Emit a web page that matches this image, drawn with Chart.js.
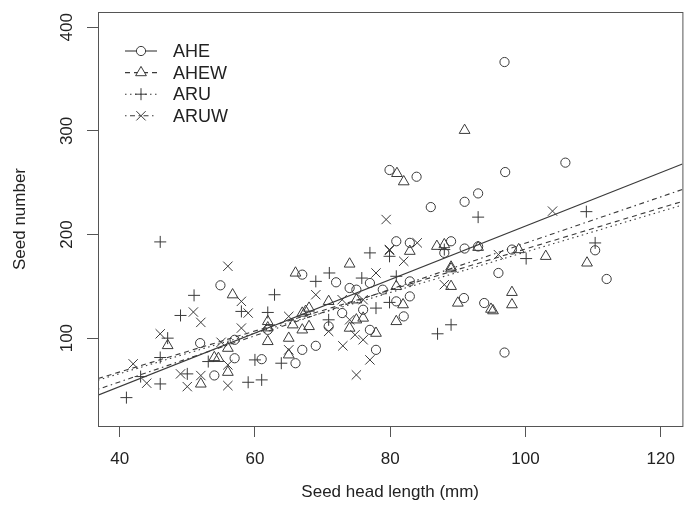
<!DOCTYPE html>
<html>
<head>
<meta charset="utf-8">
<script src="https://cdn.jsdelivr.net/npm/chart.js@4/dist/chart.umd.min.js"></script>
<style>
  html, body { margin: 0; padding: 0; overflow: hidden; background: #fff; }
  #wrap { width: 690px; height: 515px; }
</style>
</head>
<body>
<div id="wrap"><canvas id="c" width="690" height="515"></canvas></div>
<script>
// Seed number vs seed head length, four groups with their fitted lines.
// The original R plot is cropped on the right, so the canvas is 5px wider than the window.

const X_TICKS = [40, 60, 80, 100, 120];
const Y_TICKS = [100, 200, 300, 400];

const AHE_X = [54.9, 51.9, 54, 67, 72, 77, 74, 75, 78.9, 61.9, 57, 57, 61, 66, 67, 69, 70.9, 72.9, 76, 77, 77.9,
  79.9, 83.9, 97, 86, 91, 93, 80.9, 82.9, 89, 88, 91, 93, 98, 96, 82.9, 82.9, 80.9, 82, 90.9, 93.9, 96.9, 105.9, 96.9, 110.3, 112];
const AHE_Y = [151, 95.2, 64, 161.3, 153.9, 153.2, 148.4, 146.8, 146.8, 108, 98.4, 80.6, 79.7, 75.8, 88.7, 92.6, 111.3, 124.2, 127.4, 108, 88.7,
  262.3, 255.8, 260.3, 226.5, 231.6, 239.7, 193.5, 192, 193.5, 182.3, 186.5, 188.5, 185.5, 162.9, 154.8, 140.3, 135.5, 121, 138.7, 133.9, 366.5, 269.4, 86.1, 184.8, 157.1];

const AHEW_X = [47.1, 56, 54, 54.6, 56, 52, 56.7, 74, 66, 61.9, 61.9, 61.9, 65, 65, 67, 68, 67.5, 67, 68, 65.6, 70.9, 74, 76, 77.9, 75, 75,
  81, 82, 82.9, 86.9, 88, 93, 89, 89, 99, 103, 80.9, 81.9, 80.9, 89, 90, 94.9, 95.2, 98, 98, 91, 109.1];
const AHEW_Y = [92.9, 90.3, 81.3, 80.5, 67.1, 55.8, 141.9, 171.6, 162.9, 116.1, 110, 96.8, 100, 83.9, 124.2, 129, 126, 108, 111.3, 112.9, 135.5, 109.7, 119.4, 104.8, 137, 117.7,
  259, 251, 183.9, 188.7, 190.3, 187.7, 168.7, 167, 185.5, 179, 150, 132.3, 116.1, 150, 133.9, 128, 126.5, 144.2, 132.3, 300.6, 172.6];

const ARU_X = [46, 51, 49, 47.1, 53.1, 43.1, 46, 46, 41, 50, 77, 79.9, 71, 69, 75.8, 77.9, 58, 62.9, 61.9, 60, 59, 61, 63.9, 70.9,
  80.9, 88, 93, 100.1, 79.9, 89, 109, 87, 110.3];
const ARU_Y = [192.9, 141.3, 121.9, 100, 77.4, 62.9, 81.3, 55.8, 42.6, 65.5, 182.3, 179, 162.9, 154.8, 158, 129, 125.8, 141.9, 124.8, 79, 57.4, 59.7, 75.8, 117.7,
  159.7, 185.5, 216.8, 176.8, 134.5, 112.9, 222.1, 104.2, 191.9];

const ARUW_X = [56, 50.9, 52, 46, 55, 56, 56, 42, 44, 49, 50, 52, 79.9, 77.9, 69, 76, 58, 59, 58, 65, 65, 70.9, 73, 74, 74.8, 76, 77, 75, 72.9,
  79.4, 104, 79.9, 82, 84, 96, 88];
const ARUW_Y = [169.4, 125.2, 115.2, 104.2, 96, 74.2, 54.2, 75.2, 56.5, 65.5, 53.2, 63.9, 184.8, 162.9, 141.9, 137.1, 135.5, 124.2, 109.7, 121, 88.7, 106.5, 92.6, 117.7, 103.2, 98.4, 79, 64.5, 137.1,
  214.5, 222.6, 185.5, 174.2, 192, 180.6, 151.6];

// fitted lines, read at the two ends of the x range
const LINE_X = [36.8, 123.2];
const LINE_AHE = [45, 268];
const LINE_AHEW = [61, 232];
const LINE_ARU = [59.5, 228.5];
const LINE_ARUW = [50.6, 243.5];

const INK = "#3a3a3a";
const FONT = "Liberation Sans, Arial, Helvetica, sans-serif";

const pts = (xs, ys) => xs.map((x, i) => ({ x, y: ys[i] }));
const line = (ys) => LINE_X.map((x, i) => ({ x, y: ys[i] }));

const GROUPS = [
  { label: "AHE", xs: AHE_X, ys: AHE_Y, fit: LINE_AHE, style: "circle", r: 4.6, dash: [] },
  { label: "AHEW", xs: AHEW_X, ys: AHEW_Y, fit: LINE_AHEW, style: "triangle", r: 6.2, dash: [5, 4] },
  { label: "ARU", xs: ARU_X, ys: ARU_Y, fit: LINE_ARU, style: "cross", r: 6, dash: [1.5, 3.5] },
  { label: "ARUW", xs: ARUW_X, ys: ARUW_Y, fit: LINE_ARUW, style: "crossRot", r: 6.6, dash: [1.5, 3.5, 5, 3.5] },
];

const datasets = [];
GROUPS.forEach((g) => {
  datasets.push({
    label: g.label, data: pts(g.xs, g.ys), pointStyle: g.style, pointRadius: g.r,
    borderColor: INK, backgroundColor: "rgba(0,0,0,0)", pointBorderWidth: 1, showLine: false,
  });
});
GROUPS.forEach((g) => {
  datasets.push({
    label: g.label + " fit", data: line(g.fit), showLine: true, pointRadius: 0,
    borderColor: INK, borderWidth: 1.1, borderDash: g.dash,
  });
});

// box, rotated y labels and the legend, drawn like R's base graphics
const rPlot = {
  id: "rPlot",
  afterDraw(chart) {
    const { ctx, chartArea: a, scales } = chart;
    ctx.save();
    ctx.strokeStyle = "#555";
    ctx.lineWidth = 1;
    ctx.strokeRect(Math.round(a.left) + 0.5, Math.round(a.top) + 0.5, a.right - a.left, a.bottom - a.top);

    ctx.fillStyle = "#222";
    ctx.font = `17px ${FONT}`;
    ctx.textAlign = "center";
    ctx.textBaseline = "middle";
    Y_TICKS.forEach((v) => {
      const y = scales.y.getPixelForValue(v);
      ctx.save();
      ctx.translate(67, y);
      ctx.rotate(-Math.PI / 2);
      ctx.fillText(String(v), 0, 0);
      ctx.restore();
    });

    // legend: line sample with the open symbol on top
    const lx0 = 125, lx1 = 157, tx = 173;
    GROUPS.forEach((g, i) => {
      const y = 51 + i * 21.6;
      ctx.strokeStyle = INK;
      ctx.lineWidth = 1.1;
      ctx.setLineDash(g.dash);
      ctx.beginPath();
      ctx.moveTo(lx0, y);
      ctx.lineTo(lx1, y);
      ctx.stroke();
      ctx.setLineDash([]);
      ctx.lineWidth = 1;
      ctx.fillStyle = "#fff";
      Chart.helpers.drawPoint(ctx, { pointStyle: g.style, radius: g.r, borderWidth: 1 }, (lx0 + lx1) / 2, y);
      ctx.fillStyle = "#222";
      ctx.textAlign = "left";
      ctx.font = `18px ${FONT}`;
      ctx.fillText(g.label, tx, y + 1);
    });
    ctx.restore();
  },
};

new Chart(document.getElementById("c"), {
  type: "scatter",
  data: { datasets },
  options: {
    responsive: false,
    animation: false,
    layout: { padding: { left: 0, top: 12, right: 0, bottom: 0 } },
    plugins: { legend: { display: false }, tooltip: { enabled: false } },
    scales: {
      x: {
        type: "linear", min: 36.8, max: 123.2,
        afterBuildTicks: (s) => { s.ticks = X_TICKS.map((v) => ({ value: v })); },
        afterFit: (s) => { s.height = 89; },
        grid: { drawOnChartArea: false, drawTicks: true, tickLength: 11, color: "#555" },
        border: { display: false },
        ticks: { color: "#222", font: { family: FONT, size: 17 }, padding: 12, maxRotation: 0 },
        title: { display: true, text: "Seed head length (mm)", color: "#222", font: { family: FONT, size: 17 }, padding: { bottom: 12 } },
      },
      y: {
        type: "linear", min: 15.2, max: 414.8,
        afterBuildTicks: (s) => { s.ticks = Y_TICKS.map((v) => ({ value: v })); },
        afterFit: (s) => { s.width = 98; },
        grid: { drawOnChartArea: false, drawTicks: true, tickLength: 11, color: "#555" },
        border: { display: false },
        ticks: { display: false },
        title: { display: true, text: "Seed number", color: "#222", font: { family: FONT, size: 17 }, padding: { top: 10 } },
      },
    },
  },
  plugins: [rPlot],
});
</script>
</body>
</html>
